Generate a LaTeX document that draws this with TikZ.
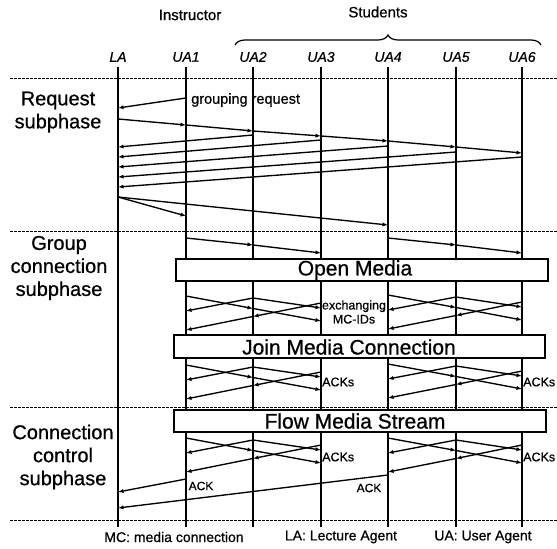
\documentclass[tikz,border=0pt]{standalone}
\usepackage{fontspec}
\setmainfont{Liberation Sans}[FakeBold=0.7]
\usetikzlibrary{arrows.meta,decorations.pathreplacing}
\newcommand\fsz[2]{\fontsize{#1bp}{#2bp}\selectfont}
\newcommand\exchpat[4]{%
 \pgfmathsetmacro\exA{#4}%
 \pgfmathsetmacro\exB{#4+12.5}%
 \pgfmathsetmacro\exC{#4+25}%
 \pgfmathsetmacro\exD{#4+2}%
 \pgfmathsetmacro\exE{#4+15}%
 \pgfmathsetmacro\exF{#4+12}%
 \pgfmathsetmacro\exG{#4+7}%
 \pgfmathsetmacro\exH{#4+20.5}%
 \pgfmathsetmacro\exI{#4+34}%
 \draw[msg] (#1|-0,\exA) -- (#2|-0,\exB);
 \draw[msg] (#2|-0,\exB) -- (#3|-0,\exC);
 \draw[msg] (#2|-0,\exD) -- (#1|-0,\exE);
 \draw[msg] (#2|-0,\exD) -- (#3|-0,\exF);
 \draw[msg] (#3|-0,\exG) -- (#2|-0,\exH);
 \draw[msg] (#2|-0,\exH) -- (#1|-0,\exI);
}
\tikzset{
 life/.style={line width=1.6bp},
 msg/.style={line width=1.35bp,-{Latex[length=5.5bp,width=4.2bp]}},
 phase/.style={line width=1bp,dash pattern=on 2.5bp off 1.5bp},
 box/.style={draw,line width=1.1bp,fill=white,inner sep=0pt,minimum height=22bp},
 boxlbl/.style={font=\fsz{21}{24},inner sep=0pt},
 sect/.style={font=\fsz{20}{23},align=center,inner sep=0pt},
 agent/.style={font=\fsz{14}{16}\itshape,inner sep=0pt},
 head/.style={font=\fsz{15}{17},inner sep=0pt},
 small/.style={font=\fsz{12.5}{14},inner sep=0pt},
 foot/.style={font=\fsz{14}{16},inner sep=0pt},
}
\begin{document}
\begin{tikzpicture}[x=1bp,y=-1bp]
\useasboundingbox (0,0) rectangle (557,549);
% headers
\node[head] (instr) at (190,15) {Instructor};
\node[head] (stud) at (378,12) {Students};
\draw[line width=1.2bp,decorate,decoration={brace,amplitude=10bp}] (235,45) -- (541,45);
% agents
\node[agent] (LA) at (118,57) {LA};
\node[agent] (UA1) at (186,57) {UA1};
\node[agent] (UA2) at (253,57) {UA2};
\node[agent] (UA3) at (321,57) {UA3};
\node[agent] (UA4) at (388,57) {UA4};
\node[agent] (UA5) at (456,57) {UA5};
\node[agent] (UA6) at (522,57) {UA6};
% phase separators
\foreach \yy in {79,231,407,520} \draw[phase] (10,\yy) -- (557,\yy);
% lifelines
\foreach \n in {LA,UA1,UA2,UA3,UA4,UA5,UA6} \draw[life] (\n|-0,67) -- (\n|-0,527);
% section labels
\node[sect] (req) at (58,112) {Request\\subphase};
\node[sect] (grp) at (59,268) {Group\\connection\\subphase};
\node[sect] (ctl) at (63,457) {Connection\\control\\subphase};
% request subphase
\draw[msg] (UA1|-0,98) -- (LA|-0,108);
\node[small,font=\fsz{14.5}{16},anchor=west] (grq) at (191,100) {grouping request};
\draw[msg] (LA|-0,119) -- (UA1|-0,125);
\draw[msg] (UA1|-0,125) -- (UA2|-0,131);
\draw[msg] (UA2|-0,131) -- (UA3|-0,136);
\draw[msg] (UA3|-0,136) -- (UA4|-0,141);
\draw[msg] (UA4|-0,141) -- (UA5|-0,147);
\draw[msg] (UA5|-0,147) -- (UA6|-0,153);
\draw[msg] (UA2|-0,135) -- (LA|-0,147);
\draw[msg] (UA3|-0,140) -- (LA|-0,157);
\draw[msg] (UA4|-0,146) -- (LA|-0,167);
\draw[msg] (UA5|-0,152) -- (LA|-0,177);
\draw[msg] (UA6|-0,157) -- (LA|-0,187);
\draw[msg] (LA|-0,197) -- (UA1|-0,216);
\draw[msg] (LA|-0,197) -- (UA4|-0,225);
% group connection subphase
\draw[msg] (UA1|-0,238) -- (UA2|-0,245);
\draw[msg] (UA2|-0,245) -- (UA3|-0,253);
\draw[msg] (UA4|-0,238) -- (UA5|-0,245);
\draw[msg] (UA5|-0,245) -- (UA6|-0,253);
\node[box,minimum width=372bp] (open) at (362,270) {};
\node[boxlbl] (openl) at (355,270) {Open Media};
\exchpat{UA1}{UA2}{UA3}{296}
\exchpat{UA4}{UA5}{UA6}{295}
\node[small,align=center,font=\fsz{12.5}{14}] (xch) at (354,312) {exchanging\\MC-IDs};
\node[box,minimum width=371bp,minimum height=23bp] (join) at (359.5,346.5) {};
\node[boxlbl] (joinl) at (349,347) {Join Media Connection};
\exchpat{UA1}{UA2}{UA3}{365}
\exchpat{UA4}{UA5}{UA6}{364}
\node[small,anchor=west] (acka) at (322,382) {ACKs};
\node[small,anchor=west] (ackb) at (523,382) {ACKs};
% connection control subphase
\node[box,minimum width=372bp] (flow) at (360,421) {};
\node[boxlbl] (flowl) at (355,421) {Flow Media Stream};
\exchpat{UA1}{UA2}{UA3}{438}
\exchpat{UA4}{UA5}{UA6}{438}
\node[small,anchor=west] (ackc) at (322,457) {ACKs};
\node[small,anchor=west] (ackd) at (523,457) {ACKs};
\draw[msg] (UA1|-0,479) -- (LA|-0,492);
\draw[msg] (UA4|-0,475) -- (LA|-0,508);
\node[small,font=\fsz{12}{14}] (ack1) at (201,486) {ACK};
\node[small,font=\fsz{12}{14}] (ack2) at (369,488) {ACK};
% footer
\node[foot] (f1) at (174,537) {MC: media connection};
\node[foot] (f2) at (341,537) {LA: Lecture Agent};
\node[foot] (f3) at (483,537) {UA: User Agent};
\end{tikzpicture}
\end{document}
